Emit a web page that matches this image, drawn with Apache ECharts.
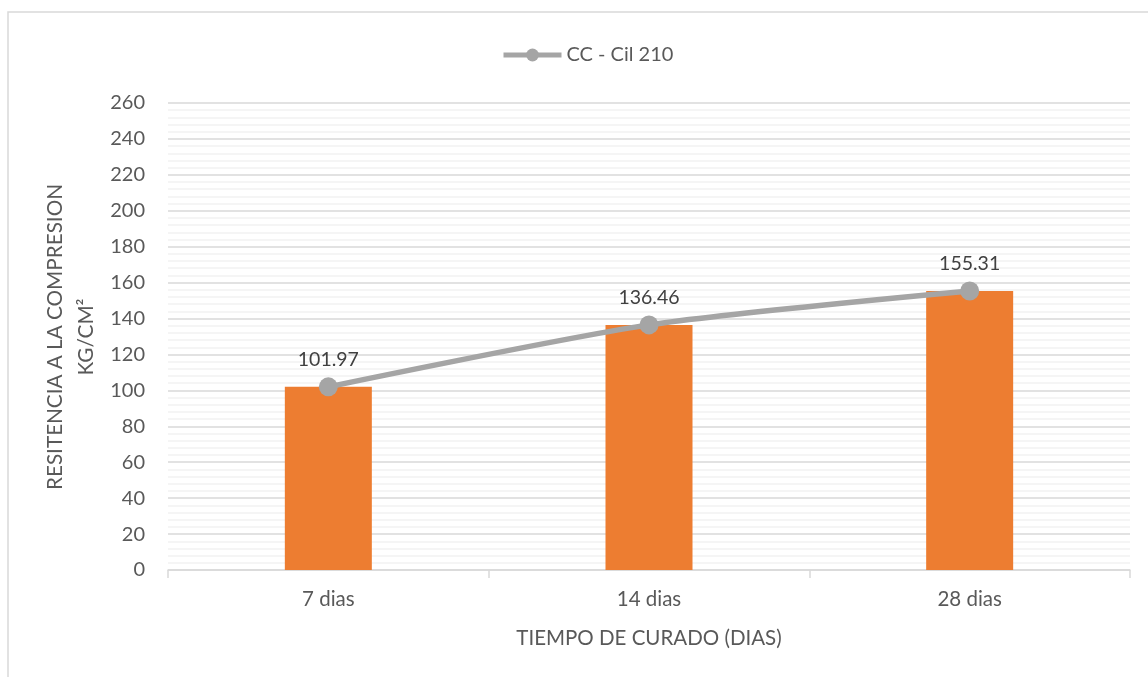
<!DOCTYPE html>
<html>
<head>
<meta charset="utf-8">
<style>html,body{margin:0;padding:0;background:#fff;}#c{width:1148px;height:677px;}</style>
<script src="https://cdn.jsdelivr.net/npm/echarts@6/dist/echarts.min.js"></script>
</head>
<body>
<div id="c"></div>
<script>
const categories = ['7 dias', '14 dias', '28 dias'];
const barValues = [101.97, 136.46, 155.31];
const lineValues = [101.97, 136.46, 155.31];
const seriesName = 'CC - Cil 210';
const yTitleLine1 = 'RESITENCIA A LA COMPRESION';
const yTitleLine2 = 'KG/CM²';
const xTitle = 'TIEMPO DE CURADO (DIAS)';

const FONT = 'Lato, "Open Sans", sans-serif';
const chart = echarts.init(document.getElementById('c'));
chart.setOption({
  animation: false,
  backgroundColor: '#fff',
  textStyle: { fontFamily: FONT },
  grid: { left: 168, right: 18, top: 103, bottom: 107 },
  legend: {
    data: [seriesName],
    top: 40,
    left: 496,
    itemWidth: 58,
    itemHeight: 16,
    itemGap: 4,
    lineStyle: { width: 5, color: '#A5A5A5' },
    itemStyle: { color: '#A5A5A5' },
    textStyle: { fontFamily: FONT, fontSize: 20, color: '#595959' }
  },
  xAxis: {
    type: 'category',
    data: categories,
    name: xTitle,
    nameLocation: 'middle',
    nameGap: 58,
    nameTextStyle: { fontFamily: FONT, fontSize: 20.5, color: '#595959' },
    axisLine: { lineStyle: { color: '#D9D9D9', width: 1.5 } },
    axisTick: { show: true, length: 8, alignWithLabel: false, lineStyle: { color: '#D9D9D9', width: 1.5 } },
    axisLabel: { fontFamily: FONT, fontSize: 20.5, color: '#595959', margin: 19 },
    splitLine: { show: false }
  },
  yAxis: {
    type: 'value',
    min: 0,
    max: 260,
    interval: 20,
    axisLine: { show: false },
    axisTick: { show: false },
    axisLabel: { fontFamily: FONT, fontSize: 20, color: '#595959', margin: 23 },
    splitLine: { show: true, lineStyle: { color: '#D9D9D9', width: 1.5 } },
    minorTick: { show: false, splitNumber: 5 },
    minorSplitLine: { show: true, lineStyle: { color: '#F2F2F2', width: 1.5 } }
  },
  graphic: [
    { type: 'rect', silent: true, z: -1, shape: { x: 8, y: 12, width: 1200, height: 700 },
      style: { fill: 'none', stroke: '#D9D9D9', lineWidth: 1.5 } },
    { type: 'text', x: 55, y: 337, rotation: Math.PI / 2,
      style: { text: yTitleLine1, font: '20.7px ' + FONT, fill: '#595959', align: 'center', verticalAlign: 'middle' } },
    { type: 'text', x: 86, y: 337, rotation: Math.PI / 2,
      style: { text: yTitleLine2, font: '20.7px ' + FONT, fill: '#595959', align: 'center', verticalAlign: 'middle' } }
  ],
  series: [
    {
      type: 'bar',
      name: 'bar',
      data: barValues,
      barWidth: 87,
      itemStyle: { color: '#ED7D31' },
      z: 2
    },
    {
      type: 'line',
      name: seriesName,
      data: lineValues,
      smooth: 0.25,
      symbol: 'circle',
      symbolSize: 19,
      lineStyle: { color: '#A5A5A5', width: 5.5 },
      itemStyle: { color: '#A5A5A5' },
      label: {
        show: true, position: 'top', distance: 8,
        fontFamily: FONT, fontSize: 19.5, color: '#404040',
        formatter: p => p.value.toFixed(2)
      },
      z: 3
    }
  ]
});
</script>
</body>
</html>
